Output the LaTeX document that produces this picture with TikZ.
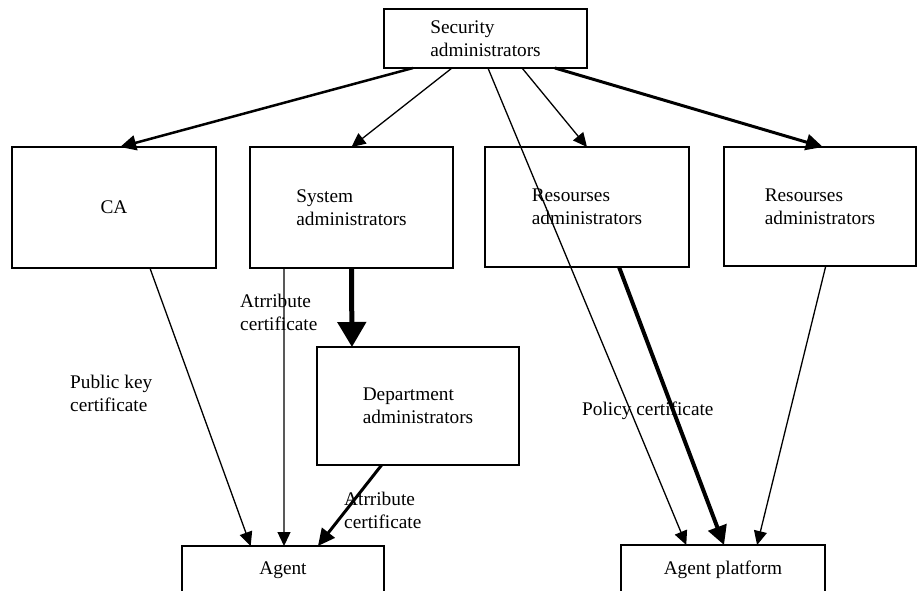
\documentclass[tikz,border=0pt]{standalone}
\usepackage{fontspec}
\setmainfont{Liberation Serif}
\usetikzlibrary{arrows.meta,calc}
\begin{document}
\begin{tikzpicture}[x=1pt,y=-1pt,
  every node/.style={font=\fontsize{19.3}{23}\selectfont},
  box/.style={draw,line width=2pt,rectangle,align=left,inner sep=0pt,outer sep=0pt},
  lbl/.style={align=left,inner sep=0pt,anchor=west},
  thinarr/.style={line width=1.3pt,-{Triangle[length=14pt,width=13pt]}},
  medarr/.style={line width=2.5pt,-{Triangle[length=16pt,width=15pt]}},
  thickarr/.style={line width=3pt,-{Triangle[length=17pt,width=16pt]}},
  fatarr/.style={line width=4pt,-{Triangle[length=19pt,width=19pt]}},
  hugearr/.style={line width=5pt,-{Triangle[length=25pt,width=28pt]}}]
\useasboundingbox (0,0) rectangle (917,590);
\clip (0,0) rectangle (917,590);
\node[box,minimum width=203pt,minimum height=59pt] (sec) at (485.5,38.5) {Security\\administrators};
\node[box,minimum width=204pt,minimum height=121pt] (ca) at (114,207.5) {CA};
\node[box,minimum width=203pt,minimum height=121pt] (sys) at (351.5,207.5) {System\\administrators};
\node[box,minimum width=204pt,minimum height=120pt] (res1) at (587,207) {Resourses\\administrators};
\node[box,minimum width=192pt,minimum height=119pt] (res2) at (820,206.5) {Resourses\\administrators};
\node[box,minimum width=202pt,minimum height=118pt] (dept) at (418,406) {Department\\administrators};
\node[box,minimum width=202pt,minimum height=48pt] (agent) at (283,570) {Agent};
\node[box,minimum width=204pt,minimum height=49pt] (ap) at (723,569.5) {Agent platform};

\draw[medarr] ($(sec.south west)!0.143!(sec.south east)$) -- ($(ca.north west)!0.53!(ca.north east)$);
\draw[thinarr] ($(sec.south west)!0.335!(sec.south east)$) -- (sys.north);
\draw[thinarr] ($(sec.south west)!0.68!(sec.south east)$) -- (res1.north);
\draw[thickarr] ($(sec.south west)!0.842!(sec.south east)$) -- ($(res2.north west)!0.515!(res2.north east)$);
\draw[thinarr] ($(sec.south west)!0.512!(sec.south east)$) -- ($(ap.north west)!0.32!(ap.north east)$);

\draw[thinarr] ($(ca.south west)!0.676!(ca.south east)$) -- ($(agent.north west)!0.34!(agent.north east)$);
\draw[thinarr] ($(sys.south west)!0.167!(sys.south east)$) -- ($(agent.north west)!0.505!(agent.north east)$);
\draw[hugearr] (sys.south) -- ($(dept.north west)!0.173!(dept.north east)$);
\draw[thickarr] ($(dept.south west)!0.32!(dept.south east)$) -- ($(agent.north west)!0.673!(agent.north east)$);
\draw[fatarr] ($(res1.south west)!0.657!(res1.south east)$) -- ($(ap.north west)!0.505!(ap.north east)$);
\draw[thinarr] ($(res2.south west)!0.53!(res2.south east)$) -- ($(ap.north west)!0.667!(ap.north east)$);

\node[lbl] (l1) at (240,312) {Atrribute\\certificate};
\node[lbl] (l2) at (70,393) {Public key\\certificate};
\node[lbl] (l3) at (344,510) {Atrribute\\certificate};
\node[lbl] (l4) at (582,411) {Policy certificate};
\end{tikzpicture}
\end{document}
